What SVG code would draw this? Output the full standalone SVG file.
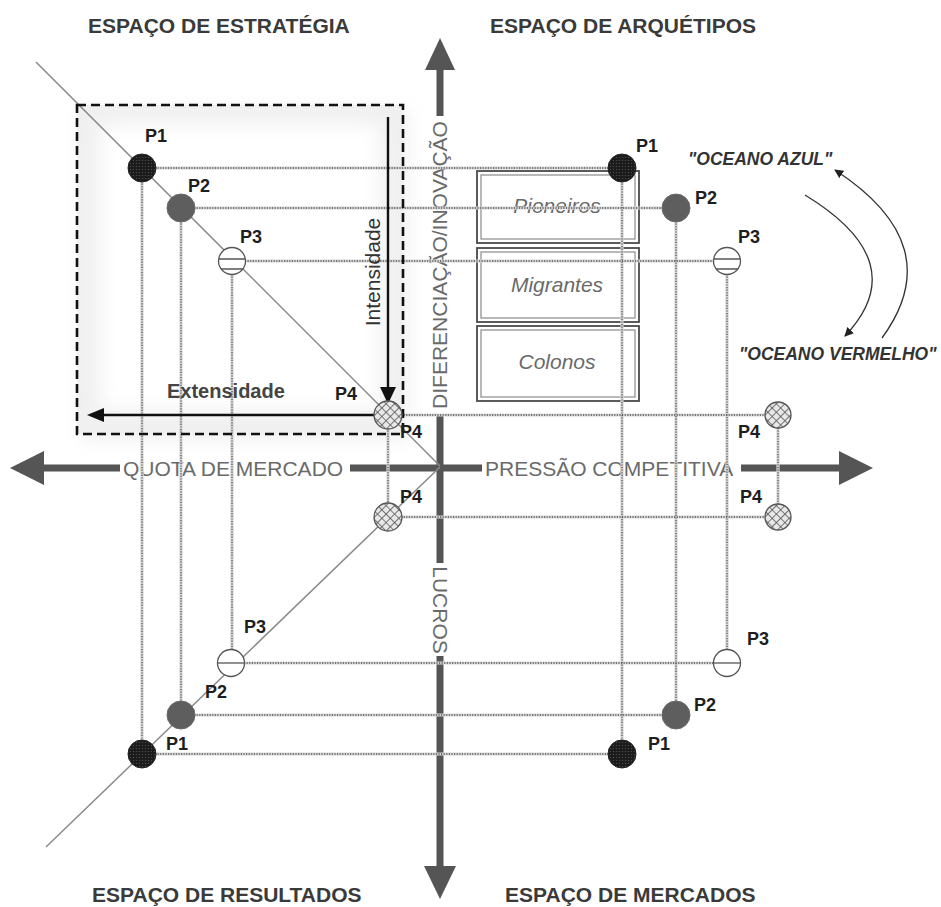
<svg xmlns="http://www.w3.org/2000/svg" xmlns:xlink="http://www.w3.org/1999/xlink" width="941" height="907" viewBox="0 0 941 907">
  <style>
    .title { font-family: "Liberation Sans", Arial, sans-serif; font-size: 21px; font-weight: bold; fill: #3a3a3a; }
    .axislbl { font-family: "Liberation Sans", Arial, sans-serif; font-size: 21px; fill: #6a6a6a; }
    .plbl { font-family: "Liberation Sans", Arial, sans-serif; font-size: 18px; font-weight: bold; fill: #1e1e1e; }
    .boxlbl { font-family: "Liberation Sans", Arial, sans-serif; font-size: 21px; font-style: italic; fill: #6a6a6a; text-anchor: middle; }
    .ocean { font-family: "Liberation Sans", Arial, sans-serif; font-size: 17.5px; font-weight: bold; font-style: italic; fill: #333; }
    .axis { stroke: #555; stroke-width: 7; fill: none; }
    .axishead { fill: #555; }
    .diag { stroke: #8a8a8a; stroke-width: 1.5; fill: none; }
    .halo { stroke: #d6d6d6; stroke-width: 3.2; fill: none; }
    .dots { stroke: #555; stroke-width: 1.3; stroke-dasharray: 1.2 1.4; fill: none; }
    .dash { stroke: #111; stroke-width: 2.6; stroke-dasharray: 9 5; fill: none; }
    .dimline { stroke: #111; stroke-width: 2.4; fill: none; }
    .boxo { fill: none; stroke: #4a4a4a; stroke-width: 1.8; }
    .boxi { fill: none; stroke: #8a8a8a; stroke-width: 1.2; }
    .curve { fill: none; stroke: #333; stroke-width: 1.3; marker-end: url(#tri); }
    .p1 { fill: url(#dotpat); stroke: #222; stroke-width: 1; }
    .p2 { fill: #5e5e5e; stroke: #6a6a6a; stroke-width: 1; }
    .p3 { fill: #fff; stroke: #555; stroke-width: 1.3; }
    .p4 { fill: url(#hatch); stroke: #555; stroke-width: 1.3; }
    .chord { stroke: #555; stroke-width: 1.3; }
  </style>
  <defs>
    <pattern id="dotpat" width="3" height="3" patternUnits="userSpaceOnUse">
      <rect width="3" height="3" fill="#1c1c1c"/>
      <circle cx="1.5" cy="1.5" r="0.6" fill="#555"/>
    </pattern>
    <pattern id="hatch" width="6" height="6" patternUnits="userSpaceOnUse" patternTransform="rotate(45)">
      <rect width="6" height="6" fill="#e8e8e8"/>
      <path d="M0 0H6M0 0V6" stroke="#555" stroke-width="1.6"/>
    </pattern>
    <marker id="tri" viewBox="0 0 10 10" refX="9" refY="5" markerWidth="9" markerHeight="9" orient="auto" markerUnits="userSpaceOnUse">
      <path d="M0 0L10 5L0 10z" fill="#222"/>
    </marker>
    <filter id="soft" x="-20%" y="-20%" width="140%" height="140%">
      <feGaussianBlur stdDeviation="9"/>
    </filter>
    <!-- guide lines joining matching points across quadrants -->
    <g id="guides">
      <path d="M142 168H622M181 208H676M232 261H727M388 415H778"/>
      <path d="M388 517H778M231 663H727M181 715H676M142 754H622"/>
      <path d="M142 168V754M181 208V715M232 261V663M388 415V517"/>
      <path d="M622 168V754M676 208V715M727 261V663M778 415V517"/>
    </g>
  </defs>

  <rect width="941" height="907" fill="#fff"/>

  <!-- strategy zone shading -->
  <g id="zone-shade">
    <rect x="82" y="110" width="326" height="330" fill="#d0d0d0" opacity="0.3" filter="url(#soft)"/>
    <rect x="77" y="105" width="326" height="329" fill="#f0f0f0"/>
    <rect x="100" y="124" width="280" height="286" fill="#fff" filter="url(#soft)"/>
  </g>

  <!-- quadrant titles -->
  <g id="titles">
    <text class="title" x="88" y="33">ESPAÇO DE ESTRATÉGIA</text>
    <text class="title" x="490" y="33">ESPAÇO DE ARQUÉTIPOS</text>
    <text class="title" x="92" y="902">ESPAÇO DE RESULTADOS</text>
    <text class="title" x="505" y="902">ESPAÇO DE MERCADOS</text>
  </g>

  <!-- archetype boxes -->
  <g id="box-pioneiros">
    <rect class="boxo" x="477" y="171" width="162" height="72"/>
    <rect class="boxi" x="481" y="175" width="154" height="64"/>
    <text class="boxlbl" x="557" y="213">Pioneiros</text>
  </g>
  <g id="box-migrantes">
    <rect class="boxo" x="477" y="248" width="162" height="74"/>
    <rect class="boxi" x="481" y="252" width="154" height="66"/>
    <text class="boxlbl" x="557" y="292">Migrantes</text>
  </g>
  <g id="box-colonos">
    <rect class="boxo" x="477" y="326" width="162" height="75"/>
    <rect class="boxi" x="481" y="330" width="154" height="67"/>
    <text class="boxlbl" x="557" y="369">Colonos</text>
  </g>

  <!-- main axes -->
  <g id="axes">
    <path class="axis" d="M43 468H120M350 468H482M741 468H842"/>
    <path class="axishead" d="M10 468L44 451V485z"/>
    <path class="axishead" d="M873 468L839 451V485z"/>
    <path class="axis" d="M440 68V116M440 414V563M440 656V869"/>
    <path class="axishead" d="M440 38L425 70H455z"/>
    <path class="axishead" d="M440 899L424 866H456z"/>
    <text class="axislbl" x="123" y="476">QUOTA DE MERCADO</text>
    <text class="axislbl" x="485" y="476">PRESSÃO COMPETITIVA</text>
    <text class="axislbl" text-anchor="middle" transform="translate(447 265) rotate(-90)">DIFERENCIAÇÃO/INOVAÇÃO</text>
    <text class="axislbl" text-anchor="middle" transform="translate(433 610) rotate(90)">LUCROS</text>
  </g>

  <!-- diagonals and guides -->
  <g id="connectors">
    <path class="diag" d="M36 62L440 466"/>
    <path class="diag" d="M440 467L46 847"/>
    <use xlink:href="#guides" class="halo"/>
    <use xlink:href="#guides" class="dots"/>
  </g>

  <!-- strategy zone frame with intensity / extent arrows -->
  <g id="strategy-zone">
    <rect class="dash" x="77" y="105" width="326" height="329"/>
    <path class="dimline" d="M388 117V390"/>
    <path d="M380 387H396L388 404z" fill="#111"/>
    <path class="dimline" d="M386 415H102"/>
    <path d="M87 415L104 408V422z" fill="#111"/>
    <text class="axislbl" style="fill:#333" text-anchor="middle" transform="translate(380 272) rotate(-90)">Intensidade</text>
    <text class="axislbl" style="fill:#444;font-weight:bold;font-size:20px" x="167" y="398">Extensidade</text>
  </g>

  <!-- ocean arrows -->
  <g id="oceans">
    <path class="curve" d="M882 338Q950 245 835 170"/>
    <path class="curve" d="M805 195Q915 262 845 336"/>
    <text class="ocean" x="688" y="165">"OCEANO AZUL"</text>
    <text class="ocean" x="739" y="360">"OCEANO VERMELHO"</text>
  </g>

  <!-- strategy points -->
  <g id="p1-nodes">
    <circle class="p1" cx="142" cy="168" r="14"/>
    <circle class="p1" cx="622" cy="168" r="14"/>
    <circle class="p1" cx="142" cy="754" r="14"/>
    <circle class="p1" cx="622" cy="754" r="14"/>
    <text class="plbl" x="145" y="142">P1</text>
    <text class="plbl" x="636" y="152">P1</text>
    <text class="plbl" x="166" y="750">P1</text>
    <text class="plbl" x="648" y="750">P1</text>
  </g>
  <g id="p2-nodes">
    <circle class="p2" cx="181" cy="208" r="14"/>
    <circle class="p2" cx="676" cy="208" r="14"/>
    <circle class="p2" cx="181" cy="715" r="14"/>
    <circle class="p2" cx="676" cy="715" r="14"/>
    <text class="plbl" x="188" y="192">P2</text>
    <text class="plbl" x="695" y="204">P2</text>
    <text class="plbl" x="205" y="698">P2</text>
    <text class="plbl" x="694" y="711">P2</text>
  </g>
  <g id="p3-nodes">
    <circle class="p3" cx="232" cy="261" r="13.5"/>
    <path class="chord" d="M219 259H245M221 269H243"/>
    <circle class="p3" cx="727" cy="261" r="13.5"/>
    <path class="chord" d="M714 259H740M716 269H738"/>
    <circle class="p3" cx="231" cy="663" r="13.5"/>
    <path class="chord" d="M218 663H244"/>
    <circle class="p3" cx="727" cy="663" r="13.5"/>
    <path class="chord" d="M714 663H740"/>
    <text class="plbl" x="240" y="243">P3</text>
    <text class="plbl" x="738" y="243">P3</text>
    <text class="plbl" x="244" y="633">P3</text>
    <text class="plbl" x="747" y="645">P3</text>
  </g>
  <g id="p4-nodes">
    <circle class="p4" cx="388" cy="415" r="14"/>
    <circle class="p4" cx="778" cy="415" r="13"/>
    <circle class="p4" cx="388" cy="517" r="14"/>
    <circle class="p4" cx="778" cy="517" r="13"/>
    <text class="plbl" x="335" y="400">P4</text>
    <text class="plbl" x="400" y="438">P4</text>
    <text class="plbl" x="400" y="503">P4</text>
    <text class="plbl" x="738" y="438">P4</text>
    <text class="plbl" x="740" y="503">P4</text>
  </g>
</svg>
